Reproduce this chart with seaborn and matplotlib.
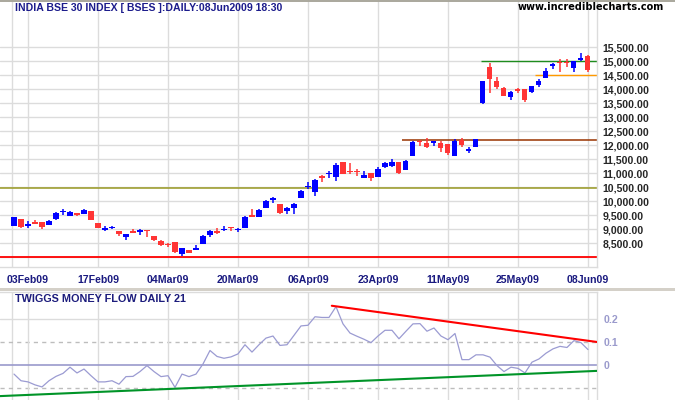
import numpy as np
import pandas as pd
import matplotlib
matplotlib.use("Agg")
import matplotlib.pyplot as plt
import seaborn as sns

# ---------------- data ----------------
opens = [9131, 9369, 9130, 9215, 9262, 9167, 9357, 9607, 9476, 9584,
         9560, 9655, 9226, 8965, 9048, 8941, 8727, 8905, 8893, 8941,
         8762, 8584, 8477, 8536, 8120, 8262, 8274, 8489, 8810, 8929,
         8965, 9060, 8977, 9060, 9512, 9441, 9762, 10060, 9905, 9643,
         9774, 10131, 10512, 10321, 10916, 10964, 10880, 11392, 11083, 11071,
         10821, 11012, 10880, 11214, 11274, 11392, 11131, 11627, 12160, 12090,
         12090, 12069, 12045, 11630, 12188, 11796, 11950, 13495, 14778, 14279,
         14041, 13709, 13994, 14006, 13887, 14160, 14410, 14837, 14980, 14944,
         14754, 15051, 15182]
highs = [9452, 9380, 9310, 9334, 9270, 9334, 9607, 9726, 9643, 9590,
         9726, 9667, 9230, 9119, 9119, 8945, 8846, 9020, 9012, 8945,
         8770, 8631, 8524, 8540, 8322, 8270, 8441, 8810, 8977, 9048,
         9119, 9084, 9036, 9476, 9714, 9714, 10060, 10143, 9910, 9810,
         9940, 10417, 10678, 10797, 10952, 11083, 11369, 11400, 11357, 11154,
         11083, 11020, 11226, 11392, 11511, 11400, 11464, 12140, 12170, 12248,
         12150, 12150, 12050, 12212, 12247, 11927, 12225, 14300, 14944, 14445,
         14089, 13934, 14029, 14006, 14124, 14350, 14754, 14944, 15063, 15063,
         15016, 15277, 15217]
lows = [9107, 9060, 9060, 9195, 9024, 9160, 9334, 9524, 9470, 9464,
        9555, 9322, 9036, 8953, 9000, 8774, 8631, 8870, 8798, 8738,
        8596, 8393, 8381, 8167, 8048, 8155, 8270, 8485, 8715, 8834,
        8960, 8941, 8905, 9055, 9429, 9435, 9755, 9940, 9560, 9560,
        9560, 10125, 10440, 10202, 10702, 10845, 10726, 10964, 10976, 10916,
        10815, 10738, 10875, 11190, 11214, 10988, 11125, 11600, 11985, 11902,
        11985, 11760, 11653, 11625, 11950, 11713, 11945, 13480, 13875, 13994,
        13768, 13625, 13851, 13554, 13880, 14089, 14405, 14707, 14623, 14802,
        14623, 15016, 14623]
closes = [9441, 9084, 9155, 9203, 9096, 9310, 9584, 9631, 9619, 9512,
          9679, 9334, 9060, 9036, 9072, 8834, 8846, 8880, 8988, 8930,
          8631, 8453, 8441, 8203, 8322, 8167, 8334, 8774, 8953, 8881,
          8988, 9048, 9000, 9453, 9453, 9690, 10024, 10083, 9583, 9750,
          9917, 10357, 10536, 10762, 10845, 10988, 11309, 10976, 11035, 11035,
          10940, 10833, 11154, 11369, 11392, 11012, 11428, 12116, 12120, 11948,
          12127, 11891, 11713, 12164, 12010, 11879, 12212, 14291, 14350, 14089,
          13768, 13887, 13946, 13602, 14101, 14291, 14647, 14873, 14920, 14920,
          15016, 15075, 14683]
tmf = [-0.040, -0.069, -0.074, -0.087, -0.096, -0.069, -0.050, -0.037, -0.010, -0.035,
       -0.018, -0.047, -0.074, -0.074, -0.069, -0.084, -0.051, -0.050, -0.029, -0.003,
       -0.029, -0.051, -0.047, -0.098, -0.040, -0.051, -0.040, 0.004, 0.063, 0.037,
       0.029, 0.035, 0.048, 0.088, 0.056, 0.088, 0.117, 0.126, 0.085, 0.088,
       0.129, 0.170, 0.173, 0.210, 0.207, 0.207, 0.254, 0.179, 0.139, 0.125,
       0.112, 0.097, 0.126, 0.151, 0.151, 0.114, 0.147, 0.179, 0.180, 0.147,
       0.161, 0.126, 0.110, 0.137, 0.023, 0.023, 0.044, 0.044, 0.034, -0.003,
       -0.029, -0.010, -0.015, -0.035, 0.012, 0.026, 0.051, 0.070, 0.081, 0.076,
       0.106, 0.097, 0.067]

tick_pos = [2, 12, 22, 32, 42, 52, 62, 72, 82]
tick_labels = ["03Feb09", "17Feb09", "04Mar09", "20Mar09", "06Apr09",
               "23Apr09", "11May09", "25May09", "08Jun09"]
price_grid = [8000, 8500, 9000, 9500, 10000, 10500, 11000, 11500, 12000,
              12500, 13000, 13500, 14000, 14500, 15000, 15500]
tmf_ticks = [0.2, 0.1, 0.0]
tmf_tick_labels = ["0.2", "0.1", "0"]

# horizontal support / resistance levels: (value, start index, colour)
level_values = [8000, 10480, 12180, 15000, 14500]
level_starts = [-2, -2, 55.5, 66.7, 74.4]
level_colors = ["#ff0000", "#999922", "#993300", "#1e8c1e", "#ff9900"]
level_widths = [1.3, 1.1, 1.1, 1.0, 1.0]

resist_x = [45.4, 83.3]
resist_y = [0.258, 0.100]
support_x = [-2.0, 83.3]
support_y = [-0.136, -0.026]

# ---------------- drawing ----------------
sns.set_theme(style="white")
plt.rcParams["font.family"] = ["Liberation Sans", "DejaVu Sans"]

W, H = 675, 400
fig = plt.figure(figsize=(6.75, 4.0), dpi=100)
fig.patch.set_facecolor("white")

XL = (-2.0, 83.29)
ax = fig.add_axes([0, 1 - 266.7 / H, 597 / W, 266.7 / H])
ax2 = fig.add_axes([0, 0, 597 / W, (H - 292) / H])

df = pd.DataFrame({"i": np.arange(len(opens)), "open": opens, "high": highs,
                   "low": lows, "close": closes, "tmf": tmf})
up = df["close"] >= df["open"]
cols = np.where(up, "#0000ff", "#ff3535")

# ---- main price panel ----
ax.set_facecolor("white")
ax.set_xlim(*XL)
ax.set_ylim(7670, 17178)
grid_c = "#dcdcdc"
ax.set_xticks(tick_pos)
ax.set_xticklabels(tick_labels, fontsize=7.6, fontweight="bold", color="#1a1a80")
ax.set_yticks(price_grid)
ax.set_yticklabels(["" if v == 8000 else f"{v:,.2f}" for v in price_grid],
                   fontsize=7.6, fontweight="bold")
for lab, v in zip(ax.get_yticklabels(), price_grid):
    lab.set_color("#2323ee" if v >= 10000 else "#2d2db8")
ax.yaxis.tick_right()
ax.tick_params(axis="y", length=0, pad=4)
ax.tick_params(axis="x", length=3, color=grid_c, pad=3, width=1)
ax.grid(True, color=grid_c, lw=1)
ax.set_axisbelow(True)
ax.axvline(-0.29, color=grid_c, lw=1, zorder=0)
for s in ["left", "top"]:
    ax.spines[s].set_visible(False)
for s in ["right", "bottom"]:
    ax.spines[s].set_color(grid_c)
    ax.spines[s].set_linewidth(1)

for v, st, c, w in zip(level_values, level_starts, level_colors, level_widths):
    ax.plot([st, XL[1]], [v, v], color=c, lw=w, zorder=2, solid_capstyle="butt")

ax.vlines(df["i"], df["low"], df["high"], colors=cols, lw=1.1, zorder=3)
body_bottom = np.minimum(df["open"], df["close"])
body_h = np.maximum(np.abs(df["close"] - df["open"]), 45)
ax.bar(df["i"], body_h, bottom=body_bottom, width=0.72, color=cols,
       linewidth=0, zorder=4)

# ---- money flow panel ----
ax2.set_facecolor("white")
ax2.set_xlim(*XL)
ax2.set_ylim(-0.153, 0.318)
ax2.set_xticks(tick_pos)
ax2.set_xticklabels([])
ax2.tick_params(axis="x", length=0)
ax2.xaxis.grid(True, color=grid_c, lw=1)
ax2.set_axisbelow(True)
ax2.axvline(-0.29, color=grid_c, lw=1, zorder=0)
ax2.set_yticks(tmf_ticks)
ax2.set_yticklabels(tmf_tick_labels, fontsize=7.6, fontweight="bold", color="#9a9acc")
ax2.yaxis.tick_right()
ax2.tick_params(axis="y", length=0, pad=5)
ax2.axhline(0.2, color=grid_c, lw=1, zorder=0)
ax2.axhline(0.1, color="#bdbdbd", lw=1, ls=(0, (3, 3)), zorder=0)
ax2.axhline(-0.1, color="#bdbdbd", lw=1, ls=(0, (3, 3)), zorder=0)
ax2.axhline(0.0, color="#9999cc", lw=1.2, zorder=1)
for s in ["left", "bottom"]:
    ax2.spines[s].set_visible(False)
for s in ["right", "top"]:
    ax2.spines[s].set_color(grid_c)
    ax2.spines[s].set_linewidth(1)

sns.lineplot(data=df, x="i", y="tmf", ax=ax2, color="#9b9bd2", lw=0.9, zorder=3)
ax2.plot(resist_x, resist_y, color="#ff0000", lw=1.5, zorder=4)
ax2.plot(support_x, support_y, color="#009428", lw=1.5, zorder=4)
ax2.set_xlabel("")
ax2.set_ylabel("")

# ---- texts and frame ----
fig.text(15 / W, 1 - 8 / H, "INDIA BSE 30 INDEX [ BSES ]:DAILY:08Jun2009 18:30",
         fontsize=7.6, fontweight="bold", color="#1c1c8c", ha="left", va="center")
fig.text(518 / W, 1 - 7.5 / H, "www.incrediblecharts.com", fontsize=7,
         fontweight="bold", color="black", ha="left", va="center",
         family="DejaVu Sans")
fig.text(15 / W, 1 - 299 / H, "TWIGGS MONEY FLOW DAILY 21", fontsize=7.8,
         fontweight="bold", color="#1c1c7c", ha="left", va="center")

fig.add_artist(plt.Rectangle((0, 1 - 291 / H), 1, 3.5 / H, transform=fig.transFigure,
                             color="#d4d0c8", lw=0))
fig.add_artist(plt.Line2D([0, 1], [1 - 0.8 / H, 1 - 0.8 / H], transform=fig.transFigure,
                          color="#a9a79c", lw=1.4))

fig.savefig("out.png", dpi=100)
